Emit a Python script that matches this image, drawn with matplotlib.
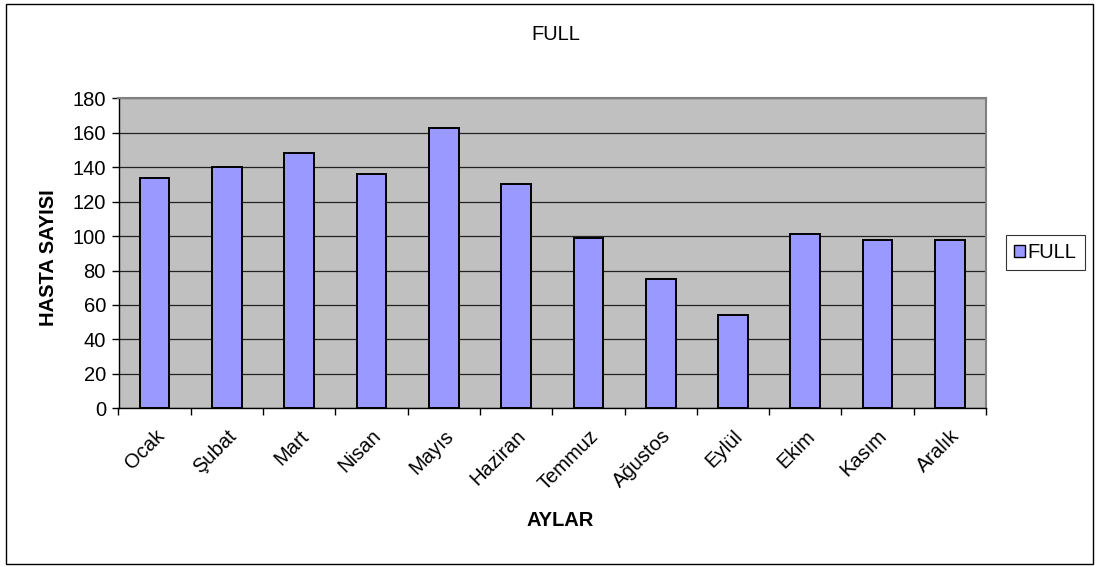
import matplotlib
matplotlib.use("Agg")
import matplotlib.pyplot as plt
from matplotlib.patches import Patch, Rectangle
import numpy as np

months = ["Ocak", "Şubat", "Mart", "Nisan", "Mayıs", "Haziran",
          "Temmuz", "Ağustos", "Eylül", "Ekim", "Kasım", "Aralık"]
patients = [134, 140, 148, 136, 163, 130, 99, 75, 54, 101, 98, 98]
y_ticks = [0, 20, 40, 60, 80, 100, 120, 140, 160, 180]
series_name = "FULL"

plt.rcParams['font.family'] = ['Liberation Sans', 'DejaVu Sans']
FS = 14.5

W, H = 1099, 567
fig = plt.figure(figsize=(W / 100, H / 100), dpi=100)
fig.patch.set_facecolor("white")

# plot area placed in pixel units
left, right, top, bottom = 118.5, 986, 98.3, 408.3
ax = fig.add_axes([left / W, 1 - bottom / H, (right - left) / W, (bottom - top) / H])
ax.set_facecolor("#C0C0C0")

x = np.arange(len(months))
ax.bar(x, patients, width=0.41, color="#9999FF", edgecolor="black",
       linewidth=1.4, zorder=3)

ax.set_xlim(-0.5, len(months) - 0.5)
ax.set_ylim(0, 180)
ax.set_yticks(y_ticks)
ax.yaxis.grid(True, color="#222222", linewidth=0.9, zorder=1)
ax.set_axisbelow(True)

# category labels on major ticks (hidden), tick marks on boundaries
ax.set_xticks(x)
ax.set_xticklabels(months, rotation=45, ha="right", va="top",
                   rotation_mode="anchor", fontsize=FS)
ax.tick_params(axis="x", which="major", length=0, pad=13)
ax.set_xticks(np.arange(-0.5, len(months)), minor=True)
ax.tick_params(axis="x", which="minor", length=5, width=1, color="black",
               direction="out")
ax.tick_params(axis="y", length=5, width=1, color="black", direction="out",
               labelsize=FS, pad=4)

for s in ("left", "bottom"):
    ax.spines[s].set_color("black")
    ax.spines[s].set_linewidth(1)
for s in ("top", "right"):
    ax.spines[s].set_color("#808080")
    ax.spines[s].set_linewidth(1.5)

# axis titles and chart title
fig.text(48 / W, 1 - 258 / H, "HASTA SAYISI", rotation=90, ha="center",
         va="center", fontsize=FS, fontweight="bold")
fig.text(560 / W, 1 - 520 / H, "AYLAR", ha="center", va="center",
         fontsize=FS, fontweight="bold")
fig.text(556 / W, 1 - 34 / H, "FULL", ha="center", va="center", fontsize=FS)

handle = Patch(facecolor="#9999FF", edgecolor="black", linewidth=1)
leg = fig.legend([handle], [series_name], loc="upper left",
                 bbox_to_anchor=(1005.5 / W, 1 - 235.3 / H),
                 frameon=True, fancybox=False, fontsize=FS,
                 handlelength=0.55, handleheight=0.55, handletextpad=0.15,
                 borderpad=0.4, borderaxespad=0)
leg.get_frame().set_edgecolor("black")
leg.get_frame().set_linewidth(0.8)

# outer chart border
fig.patches.append(Rectangle((5.5 / W, 1 - 563.5 / H), (1093 - 5.5) / W,
                             (563.5 - 4) / H, transform=fig.transFigure,
                             fill=False, edgecolor="black", linewidth=1))

fig.savefig("out.png", dpi=100)
